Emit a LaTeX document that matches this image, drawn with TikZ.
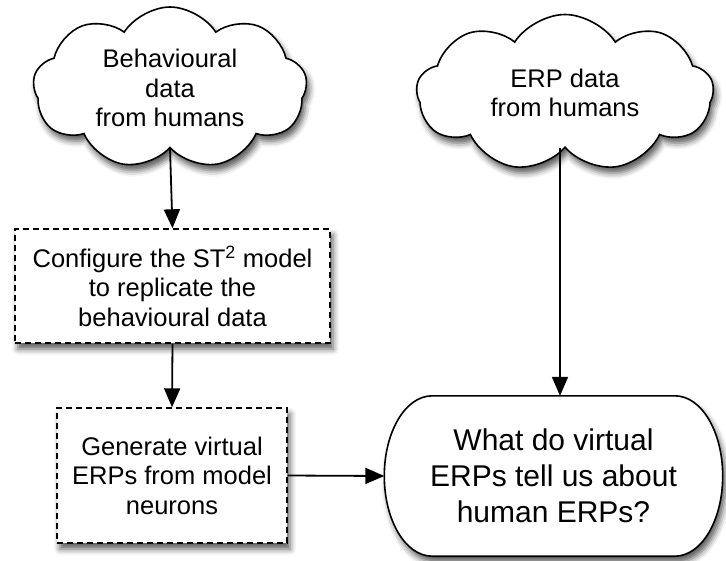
\documentclass[tikz,border=0pt]{standalone}
\usepackage{fontspec}
\setmainfont{Liberation Sans}
\usetikzlibrary{shapes.symbols,arrows.meta,shadows.blur,calc,backgrounds}
\begin{document}
\begin{tikzpicture}[x=1pt,y=-1pt,
  shad/.style={blur shadow={shadow xshift=3pt,shadow yshift=-6pt,shadow blur radius=6pt,shadow opacity=65}},
  cloudnode/.style={cloud,cloud puffs=9,cloud puff arc=115,cloud ignores aspect,draw,line width=1.6pt,fill=white,shad,
     align=center,font=\fontsize{25.5}{29.5}\selectfont,inner sep=0pt},
  dbox/.style={rectangle,draw,line width=1.4pt,dash pattern=on 6pt off 4pt,fill=white,shad,
     align=center,font=\fontsize{25.5}{29.5}\selectfont,inner sep=0pt},
  qnode/.style={rectangle,align=center,font=\fontsize{30}{36}\selectfont,inner sep=0pt},
  qline/.style={line width=1.6pt,fill=white,shad},
  arr/.style={line width=1.8pt,-{Triangle[length=19pt,width=16pt]}}]
\path[use as bounding box] (0,0) rectangle (726,560);
\node[cloudnode,minimum width=274pt,minimum height=162pt] (c1) at (170,88) {Behavioural\\data\\from humans};
\node[cloudnode,minimum width=297pt,minimum height=157pt] (c2) at (565,93) {ERP data\\from humans};
\node[dbox,minimum width=315pt,minimum height=114pt] (b1) at (172.5,286) {Configure the ST\textsuperscript{2} model\\to replicate the\\behavioural data};
\node[dbox,minimum width=230pt,minimum height=135pt] (b2) at (172,475.5) {Generate virtual\\ERPs from model\\neurons};
\node[qnode,minimum width=338pt,minimum height=160pt] (q) at (553.5,476) {What do virtual\\ERPs tell us about\\human ERPs?};
\begin{scope}[on background layer]
\path[draw,qline] ($(q.north west)+(48,0)$) -- ($(q.north east)+(-48,0)$)
  .. controls ($(q.north east)+(-21,0)$) and ($(q.east)+(0,-44)$) .. (q.east)
  .. controls ($(q.east)+(0,44)$) and ($(q.south east)+(-21,0)$) .. ($(q.south east)+(-48,0)$)
  -- ($(q.south west)+(48,0)$)
  .. controls ($(q.south west)+(21,0)$) and ($(q.west)+(0,44)$) .. (q.west)
  .. controls ($(q.west)+(0,-44)$) and ($(q.north west)+(21,0)$) .. cycle;
\end{scope}
\draw[arr] (c1.south) -- (b1.north);
\draw[arr] (b1.south) -- (b2.north);
\draw[arr] (b2.east) -- (q.west);
\draw[arr] ([xshift=-5pt]c2.south) coordinate (t) -- (t |- q.north);
\end{tikzpicture}
\end{document}
